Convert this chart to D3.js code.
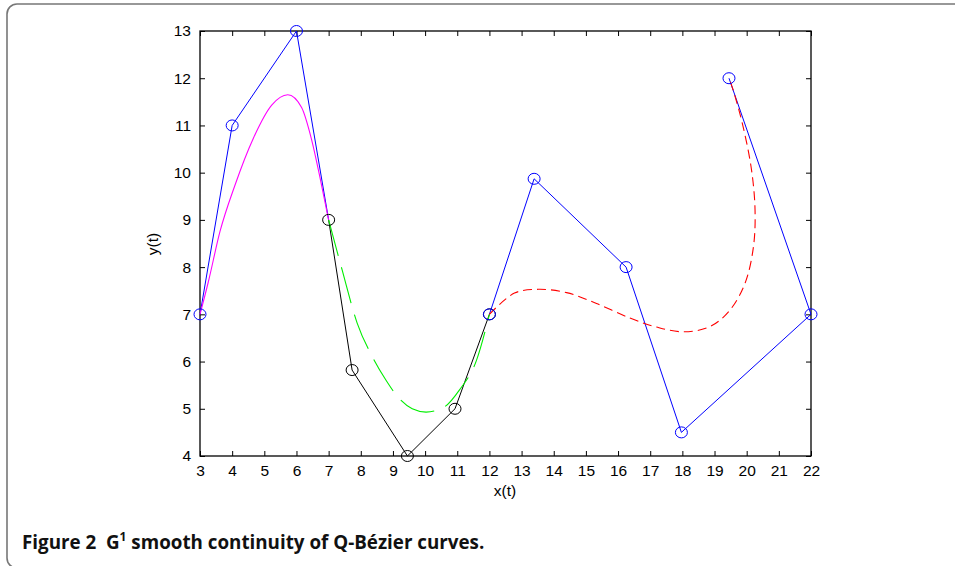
<!DOCTYPE html>
<html><head><meta charset="utf-8">
<script src="https://cdn.jsdelivr.net/npm/d3@7"></script>
<style>body{margin:0;background:#fff}svg{display:block}</style>
</head><body>
<svg id="c" width="955" height="566"></svg>
<script>
const xTicks = [3,4,5,6,7,8,9,10,11,12,13,14,15,16,17,18,19,20,21,22];
const yTicks = [4,5,6,7,8,9,10,11,12,13];
// control polygons
const bluePoly1 = [[3,7],[4,11],[6,13],[7,9]];
const blackPoly = [[7,9],[7.73,5.82],[9.45,4],[10.93,5],[12,7]];
const bluePoly2 = [[12,7],[13.39,9.87],[16.25,8],[17.97,4.5],[22,7],[19.45,12]];
// curves
const magentaCurve = [[3,7],[3.26,7.69],[3.62,8.75],[4.09,9.74],[4.66,10.73],[5.23,11.43],[5.73,11.65],[6.16,11.38],[6.47,10.7],[6.73,9.9],[7,9]];
const greenCurve = [[7,9],[7.42,7.94],[7.89,6.81],[8.36,6.10],[8.78,5.61],[9.19,5.22],[9.6,5.0],[10.03,4.93],[10.6,5.04],[11.07,5.40],[11.6,6.03],[12,7]];
const redCurve = [[12,7],[12.78,7.45],[13.52,7.53],[14.4,7.46],[15.33,7.23],[16.37,6.92],[17.2,6.73],[18.03,6.63],[18.86,6.74],[19.48,7.09],[19.95,7.66],[20.21,8.43],[20.26,9.21],[20.15,10.06],[19.89,10.97],[19.58,11.75],[19.45,12]];

const svg = d3.select('#c');
// outer frame
svg.append('rect').attr('x',7).attr('y',4).attr('width',1000).attr('height',564).attr('rx',10)
  .attr('fill','none').attr('stroke','#777').attr('stroke-width',1.6);

const x = d3.scaleLinear().domain([3,22]).range([200,811]);
const y = d3.scaleLinear().domain([4,13]).range([456,31]);

const font = '"Liberation Sans", Arial, sans-serif';
const g = svg.append('g');

// axes
const ax = g.append('g').attr('transform','translate(0,456)').call(d3.axisBottom(x).tickValues(xTicks).tickSize(-5).tickPadding(9).tickFormat(d3.format('d')));
const axTop = g.append('g').attr('transform','translate(0,31)').call(d3.axisTop(x).tickValues(xTicks).tickSize(-5).tickFormat(''));
const ay = g.append('g').attr('transform','translate(200,0)').call(d3.axisLeft(y).tickValues(yTicks).tickSize(-5).tickPadding(9).tickFormat(d3.format('d')));
const ayR = g.append('g').attr('transform','translate(811,0)').call(d3.axisRight(y).tickValues(yTicks).tickSize(-5).tickFormat(''));
[ax,axTop,ay,ayR].forEach(a=>{
  a.select('.domain').remove();
  a.selectAll('line').attr('stroke','#000').attr('stroke-width',1);
  a.selectAll('text').attr('font-family',font).attr('font-size',15.5).attr('fill','#000');
});
g.append('rect').attr('x',200).attr('y',31).attr('width',611).attr('height',425)
  .attr('fill','none').attr('stroke','#000').attr('stroke-width',1.3);

g.append('text').attr('x',505).attr('y',496).attr('text-anchor','middle')
  .attr('font-family',font).attr('font-size',15.5).text('x(t)');
g.append('text').attr('transform','translate(158,244) rotate(-90)').attr('text-anchor','middle')
  .attr('font-family',font).attr('font-size',15.5).text('y(t)');

const line = d3.line().x(d=>x(d[0])).y(d=>y(d[1]));
const smooth = d3.line().x(d=>x(d[0])).y(d=>y(d[1])).curve(d3.curveCatmullRom.alpha(0.5));
const mono = d3.line().x(d=>x(d[0])).y(d=>y(d[1])).curve(d3.curveMonotoneX);

g.append('path').datum(bluePoly1).attr('d',line).attr('fill','none').attr('stroke','#0000ff').attr('stroke-width',1);
g.append('path').datum(blackPoly).attr('d',line).attr('fill','none').attr('stroke','#000').attr('stroke-width',1);
g.append('path').datum(bluePoly2).attr('d',line).attr('fill','none').attr('stroke','#0000ff').attr('stroke-width',1);

g.append('path').datum(magentaCurve).attr('d',mono).attr('fill','none').attr('stroke','#ff00ff').attr('stroke-width',1.1);
g.append('path').datum(greenCurve).attr('d',mono).attr('fill','none').attr('stroke','#00ee00').attr('stroke-width',1.1).attr('stroke-dasharray','37,12');
g.append('path').datum(redCurve).attr('d',smooth).attr('fill','none').attr('stroke','#ff0000').attr('stroke-width',1.1).attr('stroke-dasharray','9,5');

function markers(data,color){
  g.selectAll(null).data(data).enter().append('ellipse')
    .attr('cx',d=>x(d[0])).attr('cy',d=>y(d[1])).attr('rx',6).attr('ry',5.5)
    .attr('fill','none').attr('stroke',color).attr('stroke-width',1);
}
markers(blackPoly,'#000');
markers(bluePoly1.slice(0,3),'#0000ff');
markers(bluePoly2,'#0000ff');

// caption
const cap = svg.append('text').attr('x',22).attr('y',549).attr('font-family','"Open Sans", "Noto Sans", sans-serif')
  .attr('font-weight','bold').attr('font-size',18.8).attr('fill','#111').style('white-space','pre');
cap.append('tspan').text('Figure 2\u00a0\u00a0G');
cap.append('tspan').attr('font-size',12).attr('dy',-8).text('1');
cap.append('tspan').attr('dy',8).text(' smooth continuity of Q-Bézier curves.');
</script>
</body></html>
